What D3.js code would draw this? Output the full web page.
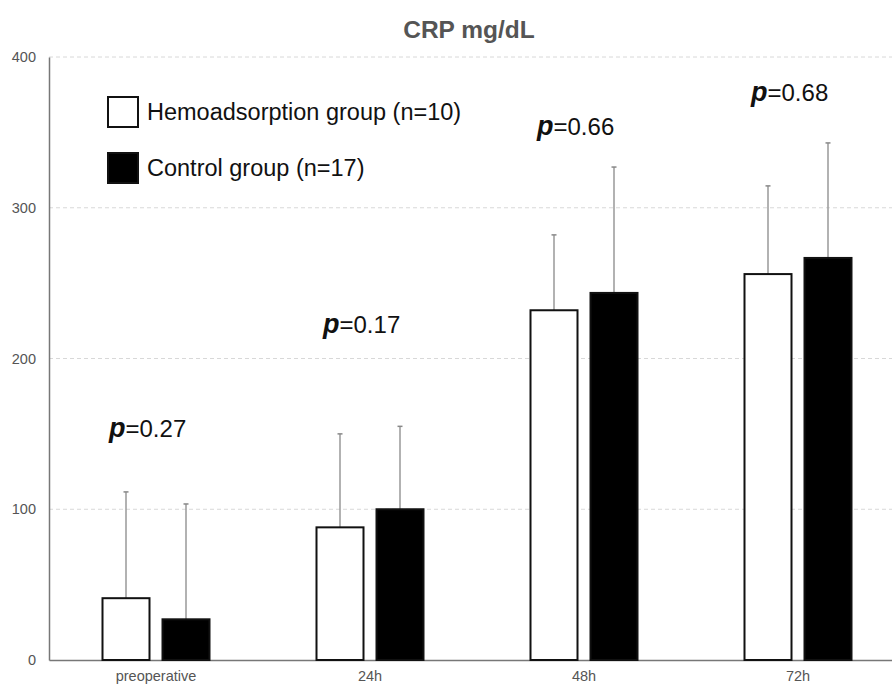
<!DOCTYPE html>
<html>
<head>
<meta charset="utf-8">
<script src="https://cdn.jsdelivr.net/npm/d3@7"></script>
<style>
  body { margin: 0; background: #fff; }
  svg { font-family: 'Liberation Sans', Arial, sans-serif; }
</style>
</head>
<body>
<svg id="chart"></svg>
<script>
const categories = ['preoperative', '24h', '48h', '72h'];
const hemoMean = [41, 88, 232, 256];
const hemoUpper = [111.5, 150, 282, 314.5];
const controlMean = [27, 100, 243.5, 266.7];
const controlUpper = [103.5, 155, 327, 343];
const pValues = ['0.27', '0.17', '0.66', '0.68'];
const pLabelAt = [148, 217, 348, 371];
const yTicks = [0, 100, 200, 300, 400];

const width = 892, height = 684;
const margin = { top: 57, left: 49, bottom: 24 };

const svg = d3.select('#chart')
  .attr('width', width)
  .attr('height', height);

const x = d3.scaleBand()
  .domain(categories)
  .range([margin.left, margin.left + 214 * 4]);

const y = d3.scaleLinear()
  .domain([0, 400])
  .range([660, margin.top]);

// grid
svg.append('g')
  .selectAll('line')
  .data(yTicks.filter(d => d > 0))
  .enter()
  .append('line')
  .attr('x1', margin.left)
  .attr('x2', width)
  .attr('y1', d => y(d))
  .attr('y2', d => y(d))
  .attr('stroke', '#d8d8d8')
  .attr('stroke-dasharray', '4,3');

// y axis
const yAxis = svg.append('g')
  .attr('transform', `translate(${margin.left},0)`)
  .call(d3.axisLeft(y).tickValues(yTicks).tickSize(0).tickPadding(13));
yAxis.select('.domain').attr('stroke', '#777').attr('stroke-width', 1.5);
yAxis.selectAll('text')
  .attr('fill', '#555')
  .style('font-size', '14.5px')
  .style('font-family', "'Liberation Sans', Arial, sans-serif");

// x axis
const xAxis = svg.append('g')
  .attr('transform', `translate(0,${y(0)})`)
  .call(d3.axisBottom(x).tickSize(0).tickPadding(11));
xAxis.select('.domain').attr('stroke', '#777').attr('stroke-width', 1.5);
xAxis.selectAll('text')
  .attr('fill', '#555')
  .style('font-size', '14.5px')
  .style('font-family', "'Liberation Sans', Arial, sans-serif");

const series = [
  { mean: hemoMean, upper: hemoUpper, fill: '#fff', offset: -30 },
  { mean: controlMean, upper: controlUpper, fill: '#000', offset: 30 },
];
const barW = 47;

series.forEach(s => {
  const g = svg.append('g');
  const cx = i => x(categories[i]) + x.bandwidth() / 2 + s.offset;

  g.selectAll('line.err')
    .data(s.upper)
    .enter()
    .append('line')
    .attr('class', 'err')
    .attr('x1', (d, i) => cx(i))
    .attr('x2', (d, i) => cx(i))
    .attr('y1', (d, i) => y(s.mean[i]))
    .attr('y2', d => y(d))
    .attr('stroke', '#999')
    .attr('stroke-width', 1.5);

  g.selectAll('line.cap')
    .data(s.upper)
    .enter()
    .append('line')
    .attr('class', 'cap')
    .attr('x1', (d, i) => cx(i) - 2.5)
    .attr('x2', (d, i) => cx(i) + 2.5)
    .attr('y1', d => y(d))
    .attr('y2', d => y(d))
    .attr('stroke', '#888')
    .attr('stroke-width', 1.5);

  g.selectAll('rect')
    .data(s.mean)
    .enter()
    .append('rect')
    .attr('x', (d, i) => cx(i) - barW / 2)
    .attr('y', d => y(d))
    .attr('width', barW)
    .attr('height', d => y(0) - y(d))
    .attr('fill', s.fill)
    .attr('stroke', '#111')
    .attr('stroke-width', 2);
});

// p values
const pText = svg.append('g')
  .selectAll('text')
  .data(pValues)
  .enter()
  .append('text')
  .attr('x', (d, i) => x(categories[i]) + x.bandwidth() / 2 - 47)
  .attr('y', (d, i) => y(pLabelAt[i]))
  .attr('font-size', 24)
  .attr('fill', '#111');
pText.append('tspan')
  .attr('font-weight', 'bold')
  .attr('font-style', 'italic')
  .attr('font-size', 27)
  .text('p');
pText.append('tspan')
  .text(d => '=' + d);

// title
svg.append('text')
  .attr('x', 469)
  .attr('y', 38)
  .attr('text-anchor', 'middle')
  .attr('font-size', 24.5)
  .attr('font-weight', 'bold')
  .attr('fill', '#555')
  .text('CRP mg/dL');

// legend
const legendItems = [
  { label: 'Hemoadsorption group (n=10)', fill: '#fff' },
  { label: 'Control group (n=17)', fill: '#000' },
];
const legend = svg.append('g')
  .attr('transform', 'translate(107,96)')
  .selectAll('g')
  .data(legendItems)
  .enter()
  .append('g')
  .attr('transform', (d, i) => `translate(0,${i * 56})`);

legend.append('rect')
  .attr('x', 1)
  .attr('y', 1)
  .attr('width', 30)
  .attr('height', 30)
  .attr('fill', d => d.fill)
  .attr('stroke', '#111')
  .attr('stroke-width', 2);

legend.append('text')
  .attr('x', 40)
  .attr('y', 24)
  .attr('font-size', 23.5)
  .attr('fill', '#111')
  .text(d => d.label);
</script>
</body>
</html>
